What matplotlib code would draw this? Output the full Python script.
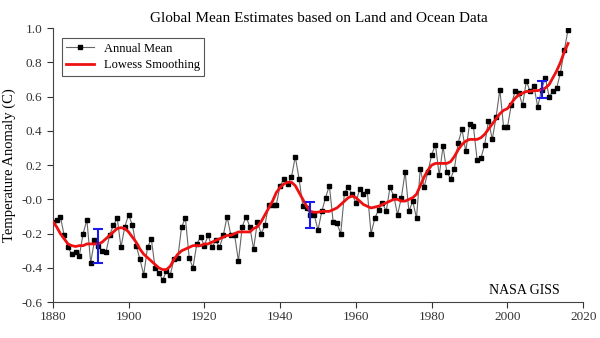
from matplotlib import pyplot as plt
import numpy as np

## Data (GISTEMP annual mean and lowess smoothing)

years = np.arange(1880, 2017)

annual_mean = [
	-0.13, -0.12, -0.10, -0.21, -0.28, -0.32, -0.31, -0.33, -0.20, -0.12,
	-0.37, -0.24, -0.27, -0.30, -0.31, -0.21, -0.15, -0.11, -0.28, -0.16,
	-0.09, -0.15, -0.27, -0.35, -0.44, -0.28, -0.23, -0.40, -0.43, -0.47,
	-0.42, -0.44, -0.35, -0.34, -0.16, -0.11, -0.34, -0.40, -0.26, -0.22,
	-0.27, -0.21, -0.28, -0.24, -0.28, -0.21, -0.10, -0.21, -0.21, -0.36,
	-0.16, -0.10, -0.16, -0.29, -0.13, -0.20, -0.15, -0.03, -0.03, -0.03,
	0.08, 0.12, 0.09, 0.13, 0.25, 0.12, -0.04, -0.05, -0.09, -0.09,
	-0.18, -0.07, 0.01, 0.08, -0.13, -0.14, -0.20, 0.04, 0.07, 0.03,
	-0.02, 0.06, 0.03, 0.05, -0.20, -0.11, -0.06, -0.02, -0.07, 0.07,
	0.02, -0.09, 0.01, 0.16, -0.07, -0.01, -0.11, 0.18, 0.07, 0.16,
	0.26, 0.32, 0.14, 0.31, 0.16, 0.12, 0.18, 0.33, 0.41, 0.28,
	0.44, 0.43, 0.23, 0.24, 0.32, 0.46, 0.35, 0.48, 0.64, 0.42,
	0.42, 0.55, 0.63, 0.62, 0.55, 0.69, 0.63, 0.66, 0.54, 0.64,
	0.71, 0.60, 0.63, 0.65, 0.74, 0.87, 0.99,
]

lowess = [
	-0.13, -0.16, -0.20, -0.23, -0.26, -0.27, -0.275, -0.27, -0.27, -0.26,
	-0.26, -0.26, -0.26, -0.25, -0.23, -0.21, -0.19, -0.17, -0.165, -0.17,
	-0.19, -0.22, -0.25, -0.29, -0.32, -0.34, -0.36, -0.38, -0.40, -0.41,
	-0.41, -0.39, -0.35, -0.32, -0.30, -0.29, -0.28, -0.27, -0.27, -0.27,
	-0.26, -0.26, -0.25, -0.24, -0.23, -0.22, -0.21, -0.21, -0.20, -0.19,
	-0.19, -0.19, -0.19, -0.17, -0.16, -0.13, -0.09, -0.05, -0.01, 0.04,
	0.07, 0.09, 0.10, 0.10, 0.08, 0.04, 0.00, -0.04, -0.07, -0.075,
	-0.075, -0.07, -0.07, -0.07, -0.06, -0.05, -0.03, -0.01, 0.01, 0.02,
	0.01, -0.01, -0.03, -0.04, -0.05, -0.045, -0.04, -0.03, -0.02, -0.01,
	0.00, 0.00, -0.01, -0.01, 0.00, 0.01, 0.03, 0.08, 0.13, 0.17,
	0.20, 0.21, 0.21, 0.21, 0.21, 0.22, 0.25, 0.29, 0.32, 0.34,
	0.35, 0.35, 0.35, 0.36, 0.38, 0.41, 0.44, 0.47, 0.50, 0.52,
	0.53, 0.56, 0.59, 0.61, 0.62, 0.63, 0.63, 0.635, 0.635, 0.64,
	0.65, 0.67, 0.71, 0.75, 0.80, 0.86, 0.91,
]

# uncertainty bars
err_years = [1892, 1948, 2009]
err_centers = [-0.27, -0.093, 0.64]
err_half = [0.10, 0.076, 0.05]

y_ticks = [-0.6, -0.4, -0.2, 0.0, 0.2, 0.4, 0.6, 0.8, 1.0]
y_labels = ['-0.6', '-0.4', '-0.2', '-0.0', '0.2', '0.4', '0.6', '0.8', '1.0']
x_ticks = [1880, 1900, 1920, 1940, 1960, 1980, 2000, 2020]

## Plot

plt.rcParams['font.family'] = ['Liberation Serif', 'DejaVu Serif']

fig = plt.figure(figsize=(6, 3.38), dpi=100)
ax = fig.add_axes([0.088, 0.106, 0.884, 0.811])

ax.plot(years, annual_mean, color='#666666', lw=0.8, marker='s', ms=3.0,
	mfc='black', mec='black', label='Annual Mean', zorder=2)
ax.plot(years, lowess, color='#ee1111', lw=2, label='Lowess Smoothing', zorder=3)
ax.errorbar(err_years, err_centers, yerr=err_half, fmt='none', ecolor='#1a1aee',
	elinewidth=1.5, capsize=3.5, capthick=1.5, zorder=4)

ax.set_xlim(1880, 2020)
ax.set_ylim(-0.6, 1.0)
ax.set_xticks(x_ticks)
ax.set_yticks(y_ticks)
ax.set_yticklabels(y_labels)
ax.tick_params(direction='out', length=4, width=0.8, colors='#333333', labelsize=9.5)
ax.tick_params(axis='x', pad=2)

for s in ['top', 'right']:
	ax.spines[s].set_visible(False)
for s in ['left', 'bottom']:
	ax.spines[s].set_color('#444444')
	ax.spines[s].set_linewidth(0.8)

ax.set_ylabel('Temperature Anomaly (C)', fontsize=10.5, labelpad=4)
fig.text(0.532, 0.945, 'Global Mean Estimates based on Land and Ocean Data',
	ha='center', va='center', fontsize=11)
ax.text(0.955, 0.02, 'NASA GISS', transform=ax.transAxes, ha='right',
	va='bottom', fontsize=10)

leg = ax.legend(loc='upper left', bbox_to_anchor=(0.005, 0.985), fontsize=9,
	fancybox=False, framealpha=1, edgecolor='#555555', handlelength=2.2,
	borderpad=0.35, labelspacing=0.35)
leg.get_frame().set_linewidth(0.8)

fig.savefig('out.png', dpi=100)
